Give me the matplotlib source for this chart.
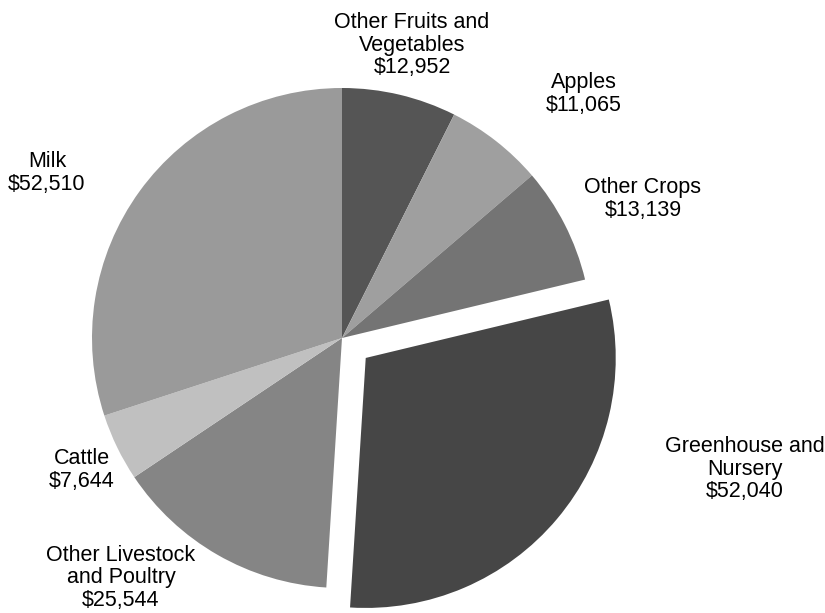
import matplotlib
matplotlib.use("Agg")
import matplotlib.pyplot as plt

categories = ["Other Fruits and\nVegetables", "Apples", "Other Crops",
              "Greenhouse and\nNursery", "Other Livestock\nand Poultry", "Cattle", "Milk"]
values = [12952, 11065, 13139, 52040, 25544, 7644, 52510]
colors = ["#555555", "#9f9f9f", "#747474", "#464646", "#858585", "#c0c0c0", "#9a9a9a"]
explode_px = [0, 0, 0, 31, 0, 0, 0]
# label anchor positions in pixels (x, y from top)
label_pos = [(412, 45), (584, 94), (643, 199), (745, 469), (121, 578), (82, 470), (47, 173)]

W, H = 825, 613
fig = plt.figure(figsize=(W / 100, H / 100), dpi=100)
ax = fig.add_axes([0, 0, 1, 1])
ax.set_xlim(0, W)
ax.set_ylim(0, H)
ax.set_aspect("equal")
ax.axis("off")

cx, cy, r = 342, H - 338, 250
ax.pie(values, colors=colors, startangle=90, counterclock=False,
       center=(cx, cy), radius=r, explode=explode_px,
       wedgeprops=dict(linewidth=0), frame=True)
ax.set_xlim(0, W)
ax.set_ylim(0, H)
ax.axis("off")

for cat, val, (px, py) in zip(categories, values, label_pos):
    ax.text(px, H - py, f"{cat}\n${val:,}", ha="center", va="center",
            fontsize=15.5, family="Liberation Sans", linespacing=1.12, color="#000000")

fig.savefig("out.png", dpi=100, facecolor="white")
